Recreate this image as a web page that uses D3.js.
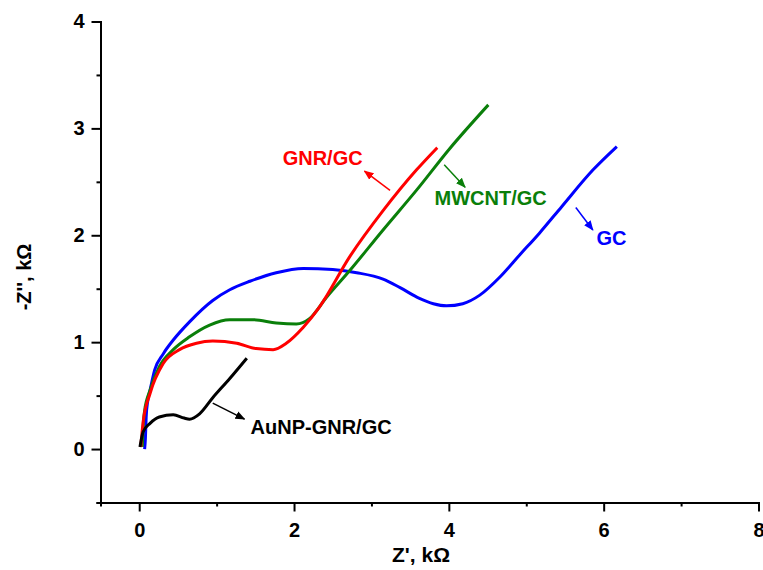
<!DOCTYPE html>
<html>
<head>
<meta charset="utf-8">
<script src="https://cdn.jsdelivr.net/npm/d3@7"></script>
<style>
  body { margin: 0; background: #fff; }
  svg text { font-family: "Liberation Sans", Arial, sans-serif; font-weight: bold; }
</style>
</head>
<body>
<svg id="SVG_CONTAINER" width="763" height="570"></svg>
<script>
let d3 = window.d3;

const width = 763,
      height = 570;

const MARGIN = {
    "LEFT": 100.5,
    "RIGHT": 4.5,
    "TOP": 21.5,
    "BOTTOM": 67.5,
};

// Nyquist data, Z' and -Z'' in kOhm
const gcX = [0.07, 0.08, 0.09, 0.11, 0.14, 0.20, 0.31, 0.44, 0.65, 0.95, 1.17, 1.43, 1.77, 2.12, 2.50, 2.81, 3.15, 3.37, 3.62, 3.80, 3.97, 4.18, 4.40, 4.66, 4.92, 5.17, 5.46, 5.86, 6.17];
const gcY = [0.00, 0.10, 0.30, 0.45, 0.55, 0.74, 0.89, 1.02, 1.19, 1.39, 1.49, 1.57, 1.65, 1.69, 1.68, 1.65, 1.59, 1.51, 1.41, 1.36, 1.34, 1.36, 1.44, 1.61, 1.82, 2.02, 2.27, 2.61, 2.83];

const mwcntX = [0.04, 0.05, 0.07, 0.14, 0.26, 0.44, 0.65, 0.91, 1.17, 1.47, 1.77, 2.03, 2.20, 2.42, 2.72, 3.15, 3.58, 4.01, 4.51];
const mwcntY = [0.02, 0.20, 0.36, 0.55, 0.77, 0.93, 1.05, 1.16, 1.21, 1.21, 1.18, 1.17, 1.22, 1.42, 1.67, 2.05, 2.42, 2.81, 3.22];

const gnrX = [0.02, 0.05, 0.14, 0.31, 0.52, 0.74, 0.95, 1.26, 1.51, 1.73, 1.90, 2.12, 2.33, 2.72, 3.15, 3.58, 3.85];
const gnrY = [0.02, 0.25, 0.52, 0.80, 0.93, 0.99, 1.01, 0.99, 0.94, 0.93, 0.99, 1.14, 1.33, 1.80, 2.23, 2.61, 2.82];

const aunpX = [0.01, 0.03, 0.05, 0.14, 0.26, 0.44, 0.58, 0.65, 0.78, 0.95, 1.17, 1.39];
const aunpY = [0.02, 0.10, 0.16, 0.24, 0.30, 0.32, 0.29, 0.28, 0.33, 0.48, 0.66, 0.85];

const xTicks = [0, 2, 4, 6, 8];
const xMinor = [1, 3, 5, 7];
const yTicks = [0, 1, 2, 3, 4];
const yMinor = [-0.5, 0.5, 1.5, 2.5, 3.5];

// labels: text position (centre, baseline) and arrow from -> to, in data units
const labels = [
    {name: "GNR/GC",      color: "#ff0000", tx: 2.37, ty: 2.66, ax: [3.24, 2.91], ay: [2.42, 2.60]},
    {name: "MWCNT/GC",    color: "#0a7f0a", tx: 4.54, ty: 2.28, ax: [3.94, 4.21], ay: [2.66, 2.45]},
    {name: "GC",          color: "#0000ff", tx: 6.10, ty: 1.91, ax: [5.64, 5.86], ay: [2.26, 2.05]},
    {name: "AuNP-GNR/GC", color: "#000000", tx: 2.35, ty: 0.14, ax: [0.95, 1.36], ay: [0.43, 0.28]},
];

const series = [
    {name: "GC",          color: "#0000ff", x: gcX,    y: gcY},
    {name: "MWCNT/GC",    color: "#0a7f0a", x: mwcntX, y: mwcntY},
    {name: "GNR/GC",      color: "#ff0000", x: gnrX,   y: gnrY},
    {name: "AuNP-GNR/GC", color: "#000000", x: aunpX,  y: aunpY},
];

let svg = d3.select("#SVG_CONTAINER");

let xScale = d3.scaleLinear()
    .domain([-0.5, 8])
    .range([MARGIN.LEFT, width - MARGIN.RIGHT]);

let yScale = d3.scaleLinear()
    .domain([-0.5, 4])
    .range([height - MARGIN.BOTTOM, MARGIN.TOP]);

let chart = svg.append('g').attr('class', 'nyquist');

// minor ticks first, then major axis on top
chart.append('g')
    .attr('transform', 'translate(0, ' + (height - MARGIN.BOTTOM) + ')')
    .call(d3.axisBottom(xScale).tickValues(xMinor).tickSize(4).tickFormat(''));
chart.append('g')
    .attr('transform', 'translate(' + MARGIN.LEFT + ', 0)')
    .call(d3.axisLeft(yScale).tickValues(yMinor).tickSize(4).tickFormat(''));

chart.append('g')
    .attr('transform', 'translate(0, ' + (height - MARGIN.BOTTOM) + ')')
    .call(d3.axisBottom(xScale).tickValues(xTicks).tickFormat(d3.format('d'))
        .tickSize(9).tickSizeOuter(0).tickPadding(11));

chart.append('g')
    .attr('transform', 'translate(' + MARGIN.LEFT + ', 0)')
    .call(d3.axisLeft(yScale).tickValues(yTicks).tickFormat(d3.format('d'))
        .tickSize(9).tickSizeOuter(0).tickPadding(7));

chart.selectAll('.domain, .tick line')
    .attr('stroke', '#000')
    .attr('stroke-width', 2);
chart.selectAll('.tick text')
    .attr('fill', '#000')
    .style('font-size', '20px')
    .style('font-family', '"Liberation Sans", Arial, sans-serif')
    .style('font-weight', 'bold');

// curves
let line = d3.line()
    .x(d => xScale(d[0]))
    .y(d => yScale(d[1]))
    .curve(d3.curveMonotoneX);

chart.selectAll('path.curve')
    .data(series)
    .enter()
    .append('path')
        .attr('class', 'curve')
        .attr('d', s => line(s.x.map((v, i) => [v, s.y[i]])))
        .attr('fill', 'none')
        .attr('stroke', s => s.color)
        .attr('stroke-width', 3)
        .attr('stroke-linejoin', 'round');

// arrow markers
let defs = svg.append('defs');
labels.forEach((l, i) => {
    defs.append('marker')
        .attr('id', 'arrow' + i)
        .attr('viewBox', '0 0 10 10')
        .attr('refX', 9)
        .attr('refY', 5)
        .attr('markerWidth', 10)
        .attr('markerHeight', 10)
        .attr('markerUnits', 'userSpaceOnUse')
        .attr('orient', 'auto')
      .append('path')
        .attr('d', 'M0,1 L10,5 L0,9 Z')
        .attr('fill', l.color);
});

chart.selectAll('line.arrow')
    .data(labels)
    .enter()
    .append('line')
        .attr('class', 'arrow')
        .attr('x1', d => xScale(d.ax[0]))
        .attr('y1', d => yScale(d.ay[0]))
        .attr('x2', d => xScale(d.ax[1]))
        .attr('y2', d => yScale(d.ay[1]))
        .attr('stroke', d => d.color)
        .attr('stroke-width', 1.5)
        .attr('marker-end', (d, i) => 'url(#arrow' + i + ')');

chart.selectAll('text.label')
    .data(labels)
    .enter()
    .append('text')
        .attr('class', 'label')
        .attr('x', d => xScale(d.tx))
        .attr('y', d => yScale(d.ty))
        .attr('text-anchor', 'middle')
        .attr('fill', d => d.color)
        .style('font-size', '20px')
        .text(d => d.name);

// axis titles
svg.append('text')
    .attr('x', 421)
    .attr('y', 562)
    .attr('text-anchor', 'middle')
    .style('font-size', '21px')
    .text("Z', kΩ");

svg.append('text')
    .attr('transform', 'translate(31, 277)rotate(-90)')
    .attr('text-anchor', 'middle')
    .style('font-size', '20px')
    .text("-Z'', kΩ");
</script>
</body>
</html>
